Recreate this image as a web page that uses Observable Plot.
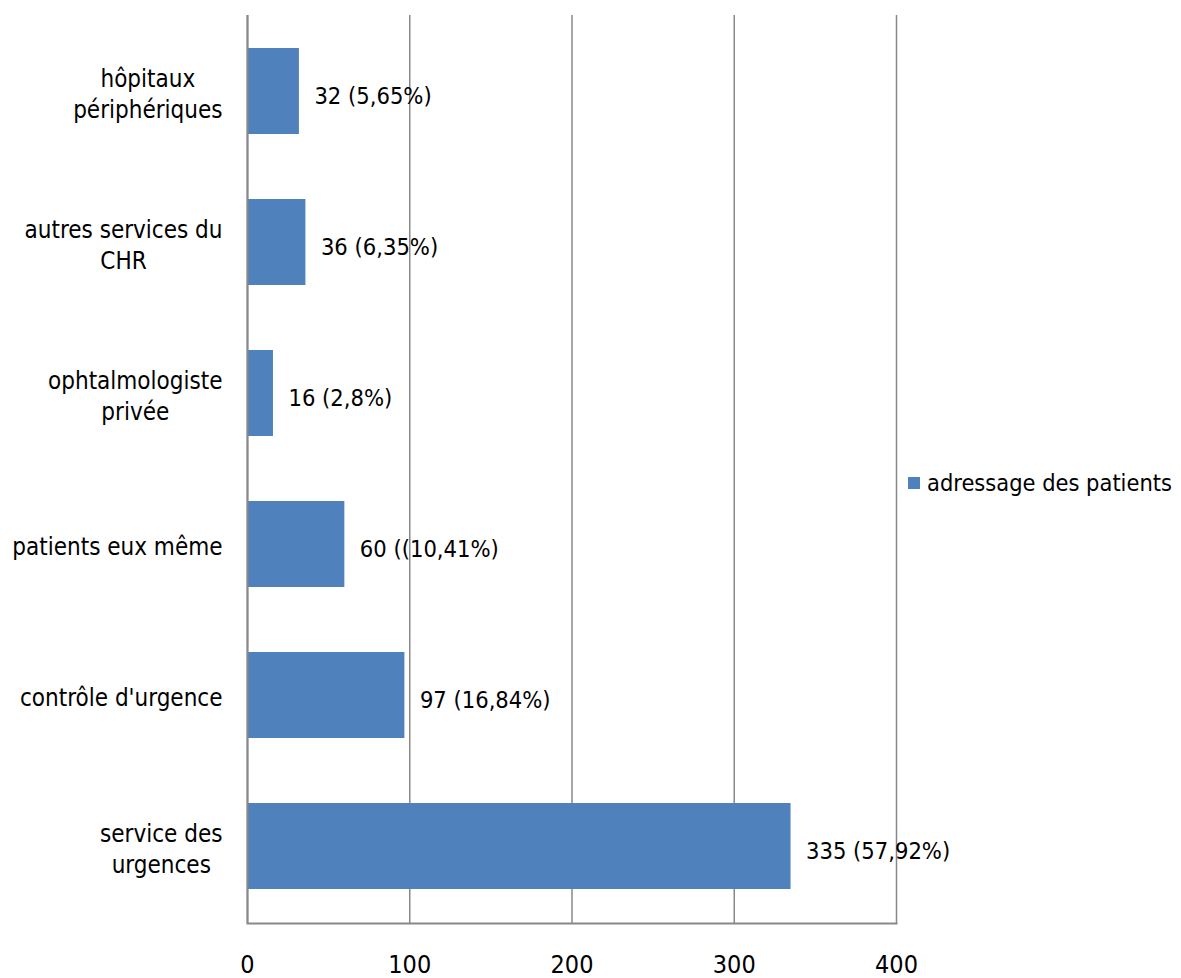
<!DOCTYPE html>
<html><head><meta charset="utf-8">
<script src="https://cdn.jsdelivr.net/npm/d3@7"></script>
<script src="https://cdn.jsdelivr.net/npm/@observablehq/plot@0.6"></script>
<style>
body{margin:0;background:#fff;}
#wrap{position:relative;width:1181px;height:978px;overflow:hidden;}
#legend{position:absolute;left:908px;top:469px;font-family:"Liberation Sans Narrow","DejaVu Sans Condensed",sans-serif;font-size:23.4px;color:#000;display:flex;align-items:center;white-space:nowrap;}
#legend .sw{width:12px;height:12px;background:#4F81BD;margin-right:7px;}
</style></head><body><div id="wrap"></div>
<script>
const categories = ["hôpitaux périphériques","autres services du CHR","ophtalmologiste privée","patients eux même","contrôle d'urgence","service des urgences"];
const labelLines = [["hôpitaux","périphériques"],["autres services du","CHR"],["ophtalmologiste","privée"],["patients eux même"],["contrôle d'urgence"],["service des","urgences"]];
const values = [32,36,16,60,97,335];
const valueLabels = ["32 (5,65%)","36 (6,35%)","16 (2,8%)","60 ((10,41%)","97 (16,84%)","335 (57,92%)"];
const xTicks = [0,100,200,300,400];
const seriesName = "adressage des patients";

const FONT = '"Liberation Sans Narrow", "DejaVu Sans Condensed", sans-serif';
const CAT_SIZE = 24;
const data = categories.map((c,i)=>({cat:c, value:values[i], label:valueLabels[i]}));
const ctx = document.createElement("canvas").getContext("2d");
ctx.font = `${CAT_SIZE}px ${FONT}`;
const catMarks = categories.map((c,i)=>{
  const w = Math.max(...labelLines[i].map(l=>ctx.measureText(l).width));
  return Plot.text([c], {y:d=>d, frameAnchor:"left", dx:-25 - w/2, dy:1, text:()=>labelLines[i].join("\n"), textAnchor:"middle", lineHeight:1.3, fontSize:CAT_SIZE, fill:"#000"});
});

const chart = Plot.plot({
  width: 1181, height: 978,
  marginLeft: 247, marginRight: 285, marginTop: 15, marginBottom: 55,
  style: {fontFamily: FONT, background:"#fff"},
  x: {domain:[0,400], ticks:xTicks, label:null},
  y: {domain: categories, paddingInner:0.43, paddingOuter:0.215, axis:null, label:null},
  marks: [
    Plot.gridX(xTicks, {stroke:"#888", strokeOpacity:1, strokeWidth:1.5}),
    Plot.barX(data, {x:"value", y:"cat", fill:"#4F81BD"}),
    Plot.ruleX([0], {stroke:"#888", strokeWidth:2}),
    Plot.frame({anchor:"bottom", stroke:"#888", strokeWidth:2}),
    Plot.text(data, {x:"value", y:"cat", text:"label", textAnchor:"start", dx:15, dy:5, fontSize:23.5, fill:"#000"}),
    ...catMarks,
    Plot.axisX(xTicks, {anchor:"bottom", tickSize:0, tickPadding:32, fontSize:25, fill:"#000", tickFormat:d=>String(d), label:null})
  ]
});
const wrap = document.getElementById("wrap");
wrap.appendChild(chart);
const lg = document.createElement("div");
lg.id = "legend";
lg.innerHTML = `<div class="sw"></div><span></span>`;
lg.querySelector("span").textContent = seriesName;
wrap.appendChild(lg);
</script></body></html>
